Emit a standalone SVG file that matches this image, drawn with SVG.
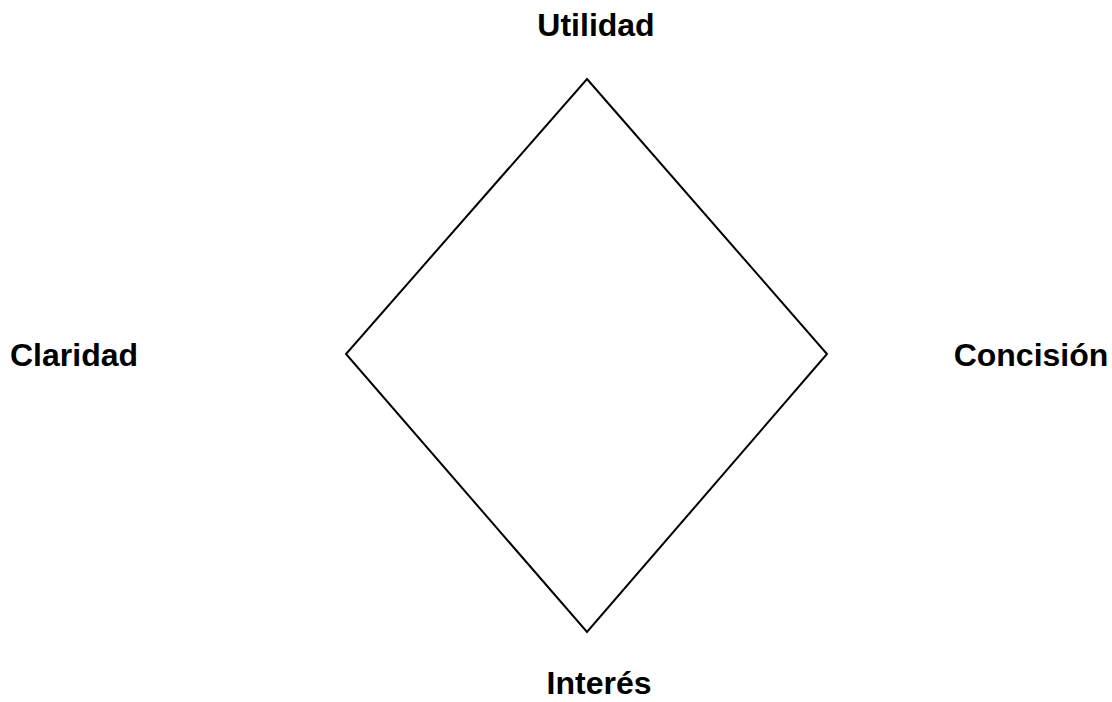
<svg xmlns="http://www.w3.org/2000/svg" width="1112" height="702" viewBox="0 0 1112 702">
<style>
.lbl{font-family:"Liberation Sans",Arial,sans-serif;font-weight:bold;font-size:32px;fill:#000}
.edge{fill:none;stroke:#000;stroke-width:2;stroke-linejoin:miter}
</style>
<rect width="1112" height="702" fill="#fff"/>
<g id="connectors">
<path class="edge" d="M587,79 L827,354 L587,632 L346,354 Z"/>
</g>
<g id="node-utilidad"><text class="lbl" x="596" y="36" text-anchor="middle">Utilidad</text></g>
<g id="node-claridad"><text class="lbl" x="74" y="366" text-anchor="middle">Claridad</text></g>
<g id="node-concision"><text class="lbl" x="1031" y="366" text-anchor="middle">Concisión</text></g>
<g id="node-interes"><text class="lbl" x="599" y="694" text-anchor="middle">Interés</text></g>
</svg>
